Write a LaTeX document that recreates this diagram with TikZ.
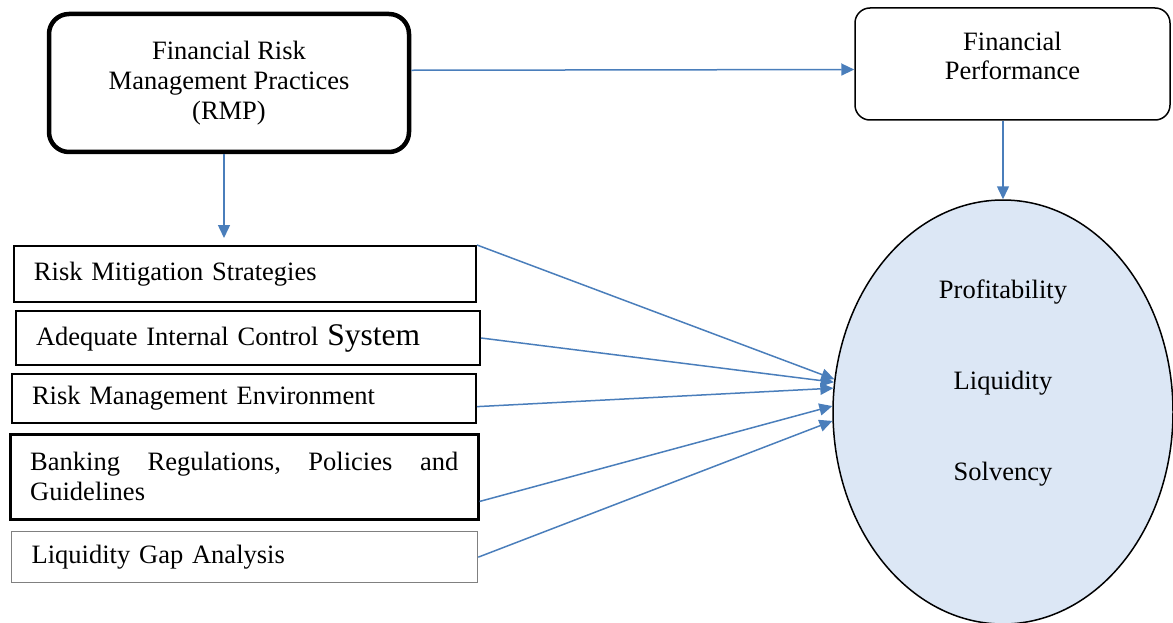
\documentclass[tikz,border=0pt]{standalone}
\usepackage{fontspec}
\setmainfont{Liberation Serif}
\usetikzlibrary{shapes.geometric,arrows.meta}
\definecolor{linkblue}{HTML}{4A7EBB}
\definecolor{tissue}{HTML}{DCE7F5}
\tikzset{
  factor/.style={draw,line width=2pt,anchor=north west,inner xsep=20pt,inner ysep=0pt,align=left},
  link/.style={->,draw=linkblue,fill=linkblue,line width=1.5pt},
}
\begin{document}
\begin{tikzpicture}[x=1pt,y=-1pt,>={Triangle[length=13pt,width=12pt]},font=\fontsize{26.5}{30}\selectfont]
	\useasboundingbox (0,0) rectangle (1173,623);
	\node[draw,line width=4.5pt,rounded corners=20pt,minimum width=360pt,minimum height=138pt,align=center] (rmp) at (229,83) {Financial Risk\\Management Practices\\(RMP)};
	\node[draw,line width=1.5pt,rounded corners=15pt,minimum width=315pt,minimum height=112pt,align=center,text depth=17pt] (perf) at (1012.5,64) {Financial\\[-1pt]Performance};
	\node[ellipse,draw,line width=1.5pt,fill=tissue,inner sep=0pt,minimum width=340pt,minimum height=424pt,align=center,text depth=64pt] (fin) at (1003,412) {Profitability\\[61pt]Liquidity\\[61pt]Solvency};
	% the five practices
	\node[factor,minimum height=56pt,text width=422pt] (mitig) at (13,245) {Risk Mitigation Strategies};
	\node[factor,minimum height=54pt,text width=424pt] (control) at (15,310) {Adequate Internal Control {\fontsize{31.5}{31}\selectfont System}};
	\node[factor,minimum height=49pt,text width=424pt] (environ) at (11,373) {Risk Management Environment};
	\node[factor,line width=2.5pt,minimum height=85pt,text width=428pt] (regul) at (9,433) {Banking\hfill Regulations,\hfill Policies\hfill and\\Guidelines};
	\node[factor,draw=gray,line width=1.3pt,minimum height=51pt,text width=426pt] (gap) at (11,531) {Liquidity Gap Analysis};
	\draw[link] (rmp.4) -- (perf.182);
	\coordinate (drop) at (224,238);
	\draw[link] (rmp.south -| drop) -- (drop);
	\draw[link] (fin.north |- perf.south) -- (fin.north);
	\draw[link] (mitig.north east) -- (fin.169);
	\draw[link] (control.east) -- (fin.170);
	\draw[link] (environ.-2) -- (fin.172);
	\draw[link] (regul.-6) -- (fin.178);
	\draw[link] (gap.east) -- (fin.183);
\end{tikzpicture}
\end{document}
